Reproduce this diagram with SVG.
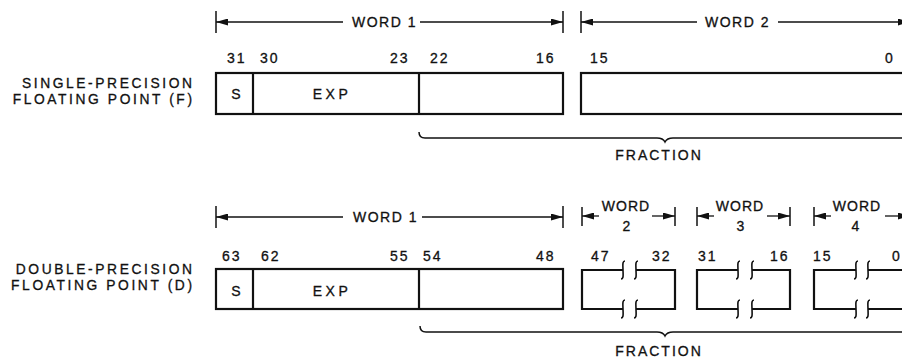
<svg xmlns="http://www.w3.org/2000/svg" width="902" height="362" viewBox="0 0 902 362">
<style>
text{font-family:"Liberation Sans",Arial,sans-serif;font-size:14px;fill:#111;stroke:#111;stroke-width:0.3}
.lbl{letter-spacing:2.6px;text-anchor:end;font-size:13.8px}
.num{letter-spacing:2px}
.w{letter-spacing:1.5px}
.ws{letter-spacing:1px;text-anchor:middle}
.fr{letter-spacing:2px;text-anchor:middle}
.fld{text-anchor:middle}
.exp{letter-spacing:3.5px;text-anchor:middle}
.box{fill:none;stroke:#111;stroke-width:2.2}
.tk{fill:none;stroke:#111;stroke-width:1.5}
.br{fill:none;stroke:#111;stroke-width:1.6}
.arr{fill:none;stroke:#111;stroke-width:1.3;marker-end:url(#ah)}
</style>
<defs>
<marker id="ah" viewBox="0 0 12 7" refX="12" refY="3.5" markerWidth="12" markerHeight="7" markerUnits="userSpaceOnUse" orient="auto">
<path d="M0,0 L12,3.5 L0,7 z" fill="#111"/>
</marker>
</defs>
<rect width="902" height="362" fill="#fff"/>

<g id="label-single">
<text class="lbl" x="194.6" y="88">SINGLE-PRECISION</text>
<text class="lbl" x="194.6" y="104">FLOATING POINT (F)</text>
</g>
<g id="label-double">
<text class="lbl" x="194.6" y="274">DOUBLE-PRECISION</text>
<text class="lbl" x="194.6" y="290">FLOATING POINT (D)</text>
</g>

<g id="single-word1">
<rect class="box" x="216" y="73" width="347" height="41"/>
<line class="box" x1="253" y1="73" x2="253" y2="114"/>
<line class="box" x1="419" y1="73" x2="419" y2="114"/>
<text class="fld" x="236" y="99">S</text>
<text class="exp" x="332" y="99">EXP</text>
<text class="num" x="227" y="63">31</text>
<text class="num" x="260" y="63">30</text>
<text class="num" x="390" y="63">23</text>
<text class="num" x="430" y="63">22</text>
<text class="num" x="536" y="63">16</text>
</g>
<g id="single-word2">
<rect class="box" x="581" y="73" width="340" height="41"/>
<text class="num" x="590" y="63">15</text>
<text class="num" x="885" y="63">0</text>
</g>

<g id="double-word1">
<rect class="box" x="216" y="269" width="347" height="40"/>
<line class="box" x1="253" y1="269" x2="253" y2="309"/>
<line class="box" x1="419" y1="269" x2="419" y2="309"/>
<text class="fld" x="236" y="296">S</text>
<text class="exp" x="332" y="296">EXP</text>
<text class="num" x="222" y="261">63</text>
<text class="num" x="261" y="261">62</text>
<text class="num" x="390" y="261">55</text>
<text class="num" x="423" y="261">54</text>
<text class="num" x="536" y="261">48</text>
</g>
<g id="double-word2">
<path class="box" d="M623,270 H582 V309 H623 M636,270 H675 V309 H636"/>
<path class="br" d="M625,261 C622,261 623,266 623,270 C623,274 624,279 621,279 M625,300 C622,300 623,305 623,309 C623,313 624,318 621,318"/>
<path class="br" d="M638,261 C635,261 636,266 636,270 C636,274 637,279 634,279 M638,300 C635,300 636,305 636,309 C636,313 637,318 634,318"/>
<text class="num" x="591" y="261">47</text>
<text class="num" x="652" y="261">32</text>
</g>
<g id="double-word3">
<path class="box" d="M738,270 H697 V309 H738 M752,270 H790 V309 H752"/>
<path class="br" d="M740,261 C737,261 738,266 738,270 C738,274 739,279 736,279 M740,300 C737,300 738,305 738,309 C738,313 739,318 736,318"/>
<path class="br" d="M754,261 C751,261 752,266 752,270 C752,274 753,279 750,279 M754,300 C751,300 752,305 752,309 C752,313 753,318 750,318"/>
<text class="num" x="698" y="261">31</text>
<text class="num" x="770" y="261">16</text>
</g>
<g id="double-word4">
<path class="box" d="M856,270 H814 V309 H856 M868,270 H910 M868,309 H910"/>
<path class="br" d="M858,261 C855,261 856,266 856,270 C856,274 857,279 854,279 M858,300 C855,300 856,305 856,309 C856,313 857,318 854,318"/>
<path class="br" d="M870,261 C867,261 868,266 868,270 C868,274 869,279 866,279 M870,300 C867,300 868,305 868,309 C868,313 869,318 866,318"/>
<text class="num" x="813" y="261">15</text>
<text class="num" x="892" y="261">0</text>
</g>

<g id="connectors">
<line class="tk" x1="216" y1="11" x2="216" y2="33"/>
<line class="tk" x1="563" y1="11" x2="563" y2="33"/>
<line class="arr" x1="343" y1="22" x2="216" y2="22"/>
<line class="arr" x1="420" y1="22" x2="563" y2="22"/>
<line class="tk" x1="581" y1="11" x2="581" y2="33"/>
<line class="arr" x1="697" y1="22" x2="581" y2="22"/>
<line class="arr" x1="778" y1="22" x2="910" y2="22"/>
<line class="tk" x1="216" y1="206" x2="216" y2="228"/>
<line class="tk" x1="563" y1="206" x2="563" y2="228"/>
<line class="arr" x1="343" y1="217" x2="216" y2="217"/>
<line class="arr" x1="422" y1="217" x2="563" y2="217"/>
<line class="tk" x1="582" y1="207" x2="582" y2="226"/>
<line class="tk" x1="675" y1="207" x2="675" y2="226"/>
<line class="arr" x1="599" y1="216" x2="582" y2="216"/>
<line class="arr" x1="652" y1="216" x2="675" y2="216"/>
<line class="tk" x1="697" y1="207" x2="697" y2="226"/>
<line class="tk" x1="790" y1="207" x2="790" y2="226"/>
<line class="arr" x1="714" y1="216" x2="697" y2="216"/>
<line class="arr" x1="767" y1="216" x2="790" y2="216"/>
<line class="tk" x1="814" y1="207" x2="814" y2="226"/>
<line class="arr" x1="831" y1="216" x2="814" y2="216"/>
<line class="arr" x1="885" y1="216" x2="910" y2="216"/>
<path class="tk" d="M419,132 Q419,138 425,138 L657,138 Q663,138 665,142 Q667,138 673,138 L905,138"/>
<path class="tk" d="M420,326 Q420,332 426,332 L657,332 Q663,332 665,336 Q667,332 673,332 L905,332"/>
</g>

<g id="word-labels">
<text class="w" x="352" y="27">WORD 1</text>
<text class="w" x="705" y="27">WORD 2</text>
<text class="w" x="353" y="222">WORD 1</text>
<text class="ws" x="626" y="211">WORD</text>
<text class="ws" x="627" y="231">2</text>
<text class="ws" x="740" y="211">WORD</text>
<text class="ws" x="741" y="231">3</text>
<text class="ws" x="857" y="211">WORD</text>
<text class="ws" x="856" y="231">4</text>
</g>
<g id="fraction-labels">
<text class="fr" x="659" y="160">FRACTION</text>
<text class="fr" x="659" y="356">FRACTION</text>
</g>
</svg>
